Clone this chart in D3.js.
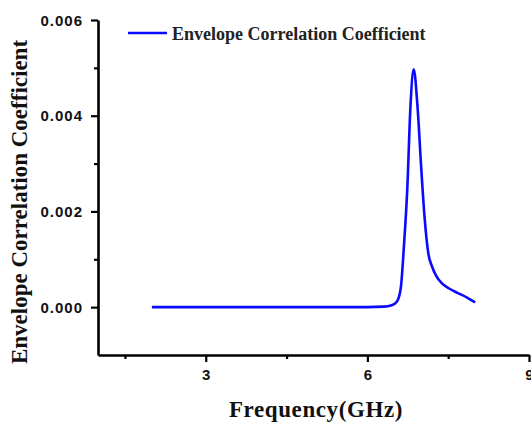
<!DOCTYPE html>
<html><head><meta charset="utf-8">
<script src="https://cdn.jsdelivr.net/npm/d3@7"></script>
<style>body{margin:0;background:#fff;overflow:hidden}</style>
</head><body>
<svg id="c" width="531" height="424"></svg>
<script>
const freq = [2.0, 3.0, 4.0, 5.0, 6.0, 6.3, 6.45, 6.55, 6.62, 6.68, 6.74, 6.8, 6.86, 6.93, 7.0, 7.06, 7.13, 7.2, 7.28, 7.38, 7.5, 7.67, 7.85, 8.0];
const ecc  = [0.0, 0.0, 0.0, 0.0, 0.0, 0.00001, 0.00004, 0.00012, 0.0004, 0.0013, 0.00245, 0.0042, 0.00497, 0.0042, 0.0029, 0.0019, 0.00113, 0.00085, 0.00065, 0.0005, 0.0004, 0.0003, 0.0002, 0.0001];
const xMajor = [3, 6, 9];
const xMinor = [1.5, 4.5, 7.5];
const yMajor = [0.000, 0.002, 0.004, 0.006];
const yMinor = [0.001, 0.003, 0.005];
const seriesName = "Envelope Correlation Coefficient";

const svg = d3.select("#c");
const x = d3.scaleLinear().domain([1, 9]).range([98, 529]);
const y = d3.scaleLinear().domain([-0.001, 0.006]).range([355, 20]);

// axes
const xAxis = svg.append("g").attr("transform", "translate(0,355)")
  .call(d3.axisBottom(x).tickValues(xMajor).tickFormat(d3.format("d")).tickSize(7).tickSizeOuter(0));
svg.append("g").attr("transform", "translate(0,355)")
  .call(d3.axisBottom(x).tickValues(xMinor).tickFormat("").tickSize(4).tickSizeOuter(0))
  .select(".domain").remove();
const yAxis = svg.append("g").attr("transform", "translate(98,0)")
  .call(d3.axisLeft(y).tickValues(yMajor).tickFormat(d3.format(".3f")).tickSize(7).tickSizeOuter(0));
svg.append("g").attr("transform", "translate(98,0)")
  .call(d3.axisLeft(y).tickValues(yMinor).tickFormat("").tickSize(4).tickSizeOuter(0))
  .select(".domain").remove();

svg.selectAll(".domain").attr("stroke", "#000").attr("stroke-width", 2.6);
svg.selectAll(".tick line").attr("stroke", "#000").attr("stroke-width", 2.2);
svg.selectAll(".tick text").attr("font-family", "Liberation Sans, Arial, sans-serif")
  .attr("font-weight", "bold").attr("font-size", 15).attr("fill", "#111");
yAxis.selectAll(".tick text").attr("x", -15).attr("dy", "0.35em").attr("letter-spacing", 1);
xAxis.selectAll(".tick text").attr("y", 14);

// line
const line = d3.line().x(d => x(d[0])).y(d => y(d[1])).curve(d3.curveMonotoneX);
svg.append("path").datum(freq.map((f, i) => [f, ecc[i]]))
  .attr("d", line).attr("fill", "none").attr("stroke", "#0a0aff").attr("stroke-width", 2.6)
  .attr("stroke-linejoin", "round");

// legend
svg.append("line").attr("x1", 128).attr("x2", 167).attr("y1", 33).attr("y2", 33)
  .attr("stroke", "#0a0aff").attr("stroke-width", 2.6);
svg.append("text").attr("x", 172).attr("y", 40).text(seriesName)
  .attr("font-family", "Liberation Serif, Times New Roman, serif").attr("font-weight", "bold")
  .attr("font-size", 18).attr("fill", "#222");

// axis titles
svg.append("text").attr("x", 316).attr("y", 417).attr("text-anchor", "middle")
  .text("Frequency(GHz)")
  .attr("font-family", "Liberation Serif, Times New Roman, serif").attr("font-weight", "bold")
  .attr("font-size", 23).attr("letter-spacing", 0.6).attr("fill", "#111");
svg.append("text").attr("transform", "translate(27,202) rotate(-90)").attr("text-anchor", "middle")
  .text("Envelope Correlation Coefficient")
  .attr("font-family", "Liberation Serif, Times New Roman, serif").attr("font-weight", "bold")
  .attr("font-size", 23).attr("fill", "#111");
</script>
</body></html>
